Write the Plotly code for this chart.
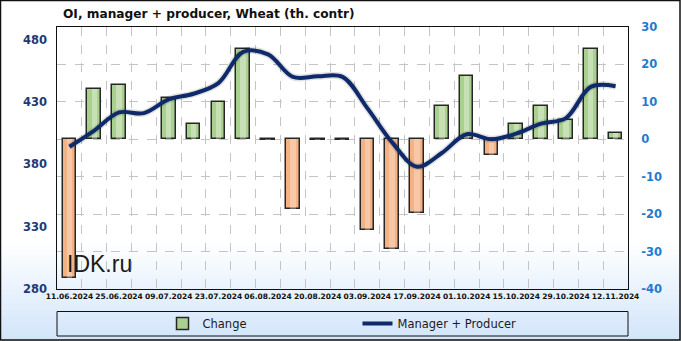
import plotly.graph_objects as go

dates = ["11.06.2024", "18.06.2024", "25.06.2024", "02.07.2024", "09.07.2024",
         "16.07.2024", "23.07.2024", "30.07.2024", "06.08.2024", "13.08.2024",
         "20.08.2024", "27.08.2024", "03.09.2024", "10.09.2024", "17.09.2024",
         "24.09.2024", "01.10.2024", "08.10.2024", "15.10.2024", "22.10.2024",
         "29.10.2024", "05.11.2024", "12.11.2024"]
change = [-37, 13.4, 14.4, None, 11, 4, 10, 24, -0.2, -18.7, -0.2, -0.2,
          -24.2, -29.2, -19.8, 8.9, 16.8, -4.3, 4, 8.9, 5.1, 24, 1.8]
manager_producer = [394, 407, 421.5, 421, 432, 436.5, 445, 470, 468, 450, 450.5, 450,
                    425, 397.5, 378, 389, 404, 400, 404.5, 412.5, 417, 442, 442.5]
left_ticks = [280, 330, 380, 430, 480]
right_ticks = [-40, -30, -20, -10, 0, 10, 20, 30]
right_labels = [str(v) for v in right_ticks]
title_text = "OI, manager + producer, Wheat (th. contr)"

W, H = 681, 341
ML, MR, MT, MB = 57, 53, 27, 52
PW, PH = W - ML - MR, H - MT - MB


def px(x):
    return (x - ML) / PW


def py(y):
    return (H - MB - y) / PH


idx = list(range(len(dates)))
pos = [v if (v is not None and v >= 0) else None for v in change]
neg = [v if (v is not None and v < 0) else None for v in change]

fig = go.Figure()
fig.add_trace(go.Bar(x=idx, y=pos, name="Change", yaxis="y", width=0.55,
                     marker=dict(color="#a9d08e", line=dict(color="#262626", width=1.5))))
fig.add_trace(go.Bar(x=idx, y=neg, name="Change", yaxis="y", width=0.55, showlegend=False,
                     marker=dict(color="#f4b183", line=dict(color="#262626", width=1.5))))
# highlight stripes for a bevelled look
fig.add_trace(go.Bar(x=idx, y=pos, yaxis="y", width=0.22, showlegend=False, hoverinfo="skip",
                     marker=dict(color="rgba(255,255,255,0.35)", line=dict(width=0))))
fig.add_trace(go.Bar(x=idx, y=neg, yaxis="y", width=0.22, showlegend=False, hoverinfo="skip",
                     marker=dict(color="rgba(255,255,255,0.3)", line=dict(width=0))))
fig.add_trace(go.Scatter(x=idx, y=manager_producer, yaxis="y2", mode="lines", showlegend=False,
                         hoverinfo="skip",
                         line=dict(shape="spline", smoothing=1, color="rgba(0,0,0,0.12)", width=7)))
fig.add_trace(go.Scatter(x=idx, y=manager_producer, yaxis="y2", mode="lines",
                         name="Manager + Producer",
                         line=dict(shape="spline", smoothing=1, color="#0f2a6b", width=4)))

shapes = []
# background gradient (white -> light blue)
n = 30
y_start, y_end = 240, H
for i in range(n):
    t = i / (n - 1)
    r = round(255 + (210 - 255) * t)
    g = round(255 + (229 - 255) * t)
    b = round(255 + (250 - 255) * t)
    y0 = y_start + (y_end - y_start) * i / n
    y1 = y_start + (y_end - y_start) * (i + 1) / n + 0.5
    shapes.append(dict(type="rect", xref="paper", yref="paper", layer="below",
                       x0=px(0), x1=px(W), y0=py(y0), y1=py(y1),
                       fillcolor=f"rgb({r},{g},{b})", line=dict(width=0)))
# legend box
shapes.append(dict(type="rect", xref="paper", yref="paper", x0=0, x1=1,
                   y0=py(311.5), y1=py(336), line=dict(color="#111111", width=1)))
# outer frame
shapes.append(dict(type="rect", xref="paper", yref="paper", x0=px(0.5), x1=px(W - 1),
                   y0=py(H - 1), y1=py(0.5), line=dict(color="#111111", width=1.5)))

fig.update_layout(
    width=W, height=H,
    margin=dict(l=ML, r=MR, t=MT, b=MB, autoexpand=False),
    paper_bgcolor="white",
    plot_bgcolor="rgba(0,0,0,0)",
    barmode="overlay",
    bargap=0,
    shapes=shapes,
    title=dict(text=title_text, xref="container", yref="container",
               x=63 / W, xanchor="left", y=1 - 14 / H, yanchor="middle",
               font=dict(family="DejaVu Sans", size=12.2, weight="bold", color="#111111")),
    xaxis=dict(range=[-0.5, len(dates) - 0.5], tickvals=idx[::2], ticktext=dates[::2],
               showgrid=False, zeroline=False, showline=True, linecolor="#111111",
               linewidth=1, mirror=True, ticks="",
               tickfont=dict(family="DejaVu Sans", size=7.5, weight="bold", color="#111111"),
               minor=dict(tick0=-0.5, dtick=1, showgrid=True, gridcolor="#c4c4c4",
                          griddash="dash", gridwidth=1, ticks="")),
    yaxis=dict(side="right", range=[-40, 30], tickvals=right_ticks, ticktext=right_labels,
               showgrid=True, gridcolor="#c4c4c4", griddash="dash", gridwidth=1,
               zeroline=False, showline=True, linecolor="#111111", linewidth=1, mirror=True,
               ticks="", ticklabelstandoff=10,
               tickfont=dict(family="DejaVu Sans", size=11.5, weight="bold", color="#1f7bcf")),
    yaxis2=dict(side="left", overlaying="y", range=[280, 490], tickvals=left_ticks,
                showgrid=False, zeroline=False, showline=False, ticks="",
                ticklabelstandoff=9,
                tickfont=dict(family="DejaVu Sans", size=11.5, weight="bold", color="#1d3a78")),
    legend=dict(orientation="h", x=0.5 + 15 / PW, xanchor="center", y=py(323.5),
                yanchor="middle",
                bgcolor="rgba(0,0,0,0)", entrywidth=150, entrywidthmode="pixels",
                font=dict(family="DejaVu Sans", size=11.5, color="#1a1a1a")),
    annotations=[dict(text="IDK.ru", xref="paper", yref="paper", x=px(99.5), y=py(264),
                      showarrow=False, xanchor="center", yanchor="middle",
                      font=dict(family="Liberation Sans", size=23, color="#1a1a1a"))],
)

fig.write_html("out.html")
